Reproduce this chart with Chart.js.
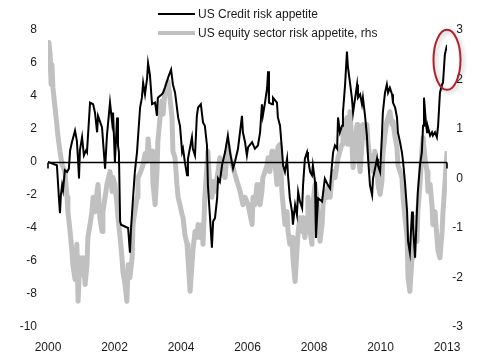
<!DOCTYPE html>
<html>
<head>
<meta charset="utf-8">
<script src="https://cdn.jsdelivr.net/npm/chart.js@4/dist/chart.umd.min.js"></script>
<style>
html,body{margin:0;padding:0;background:#fff;}
#wrap{width:480px;height:364px;position:relative;}
</style>
</head>
<body>
<div id="wrap"><canvas id="c" width="480" height="364"></canvas></div>
<script>
// ---- data ----
const seriesNames = ["US Credit risk appetite", "US equity sector risk appetite, rhs"];
const xTickLabels = ["2000", "2002", "2004", "2006", "2008", "2010", "2013"];
const leftRange = [-10, 8];
const rightRange = [-3, 3];

// [decimal year, value] - left axis
const creditSeries = [
[2000.00,0.0],[2000.29,-0.2],[2000.36,-2.3],[2000.39,-3.1],[2000.42,-2.0],[2000.46,-1.4],[2000.49,-1.7],
[2000.55,-0.5],[2000.62,-0.6],[2000.68,-0.4],[2000.72,0.7],[2000.78,1.2],[2000.88,1.9],[2000.94,1.3],
[2000.98,0.1],[2001.01,-1.0],[2001.04,0.7],[2001.11,1.5],[2001.17,0.4],[2001.24,0.7],[2001.27,0.6],
[2001.37,3.6],[2001.47,3.5],[2001.53,3.0],[2001.60,1.8],[2001.63,2.8],[2001.76,2.1],[2001.86,-0.4],
[2001.92,1.6],[2002.02,3.6],[2002.09,2.4],[2002.12,3.0],[2002.18,0.0],[2002.25,2.7],[2002.28,1.0],
[2002.31,0.6],[2002.35,-3.6],[2002.38,-3.8],[2002.61,-4.0],[2002.67,-5.5],[2002.70,-4.2],[2002.77,-2.2],
[2002.83,-0.6],[2002.90,0.6],[2003.00,3.3],[2003.06,3.9],[2003.10,4.8],[2003.16,4.1],[2003.23,5.1],
[2003.26,6.0],[2003.32,5.3],[2003.39,3.5],[2003.49,3.6],[2003.55,2.8],[2003.58,3.9],[2003.71,4.1],
[2003.75,4.2],[2003.81,4.5],[2003.91,5.1],[2004.01,5.6],[2004.07,4.7],[2004.14,4.2],[2004.24,2.7],
[2004.30,2.2],[2004.37,0.6],[2004.40,0.8],[2004.46,0.0],[2004.53,-0.8],[2004.56,0.2],[2004.69,1.5],
[2004.72,0.8],[2004.79,0.4],[2004.85,2.8],[2004.89,3.3],[2004.98,3.5],[2005.05,2.4],[2005.11,2.2],
[2005.18,1.0],[2005.21,-1.4],[2005.28,-3.4],[2005.34,-5.2],[2005.38,-3.6],[2005.44,-3.4],[2005.51,-2.2],
[2005.54,-1.0],[2005.60,-1.2],[2005.67,-0.2],[2005.77,0.6],[2005.86,1.6],[2005.93,0.6],[2006.03,-0.4],
[2006.09,0.0],[2006.19,0.8],[2006.32,2.8],[2006.35,1.8],[2006.42,1.2],[2006.48,0.4],[2006.52,0.9],
[2006.65,1.2],[2006.74,0.8],[2006.84,1.0],[2006.91,1.8],[2006.97,3.5],[2007.00,2.8],[2007.07,3.6],
[2007.14,4.5],[2007.17,5.5],[2007.20,3.6],[2007.30,3.5],[2007.33,3.9],[2007.46,3.6],[2007.49,2.7],
[2007.56,2.2],[2007.62,0.8],[2007.66,-0.2],[2007.72,-0.6],[2007.79,0.2],[2007.82,-0.8],[2007.88,-2.2],
[2007.95,-3.0],[2007.98,-3.8],[2008.05,-2.6],[2008.11,-3.2],[2008.15,-1.8],[2008.21,-2.4],[2008.28,-2.8],
[2008.31,-1.4],[2008.37,0.2],[2008.44,0.6],[2008.47,0.2],[2008.54,-0.6],[2008.60,-0.8],[2008.63,-0.2],
[2008.70,-1.2],[2008.73,-4.6],[2008.80,-2.2],[2008.93,-2.4],[2009.02,-1.0],[2009.12,-1.4],[2009.19,-1.6],
[2009.25,-0.2],[2009.29,0.6],[2009.35,1.0],[2009.42,0.8],[2009.45,2.7],[2009.51,1.8],[2009.58,2.2],
[2009.61,3.0],[2009.68,4.7],[2009.74,6.7],[2009.77,5.8],[2009.84,4.8],[2009.90,3.9],[2009.94,3.0],
[2010.07,4.7],[2010.10,3.9],[2010.17,4.1],[2010.23,3.5],[2010.26,3.9],[2010.33,2.8],[2010.39,1.6],
[2010.43,0.2],[2010.49,-1.4],[2010.56,-2.0],[2010.59,-1.0],[2010.72,0.2],[2010.75,-0.2],[2010.82,-0.6],
[2010.88,1.6],[2010.91,3.0],[2010.98,4.2],[2011.04,4.7],[2011.08,4.2],[2011.14,4.5],[2011.21,4.1],
[2011.24,3.6],[2011.31,3.3],[2011.37,2.7],[2011.40,1.8],[2011.47,1.2],[2011.53,0.6],[2011.57,0.0],
[2011.63,-1.2],[2011.70,-3.0],[2011.73,-4.8],[2011.79,-5.5],[2011.86,-3.0],[2011.89,-3.8],[2011.96,-5.8],
[2012.02,-3.0],[2012.05,-1.8],[2012.12,-0.2],[2012.18,0.6],[2012.22,2.2],[2012.25,3.9],[2012.32,2.2],
[2012.35,1.8],[2012.38,2.1],[2012.45,1.6],[2012.51,1.8],[2012.54,1.6],[2012.61,1.8],[2012.67,1.5],
[2012.71,2.2],[2012.77,4.2],[2012.84,4.7],[2012.87,4.8],[2012.93,6.5],[2013.00,7.1]
];

// [decimal year, value] - right axis
const equitySeries = [
[2000.00,2.2],[2000.03,2.75],[2000.07,2.5],[2000.10,1.9],[2000.13,2.3],[2000.16,1.84],[2000.23,1.43],
[2000.33,0.83],[2000.39,0.55],[2000.46,0.28],[2000.55,0.14],[2000.62,-0.38],[2000.65,-0.67],[2000.72,-1.07],
[2000.78,-1.47],[2000.81,-1.74],[2000.88,-2.04],[2000.94,-1.33],[2000.98,-2.48],[2001.04,-1.60],[2001.11,-1.94],
[2001.14,-1.60],[2001.21,-2.14],[2001.27,-1.74],[2001.30,-1.19],[2001.37,-0.93],[2001.43,-0.67],[2001.47,-0.38],
[2001.53,-0.67],[2001.60,-0.26],[2001.63,-0.12],[2001.69,-0.79],[2001.76,-1.07],[2001.79,-0.67],[2001.86,-0.38],
[2001.92,-0.12],[2002.02,0.14],[2002.09,-0.26],[2002.12,0.02],[2002.18,-0.12],[2002.25,-0.53],[2002.28,-0.79],
[2002.35,-1.19],[2002.41,-1.60],[2002.44,-1.88],[2002.51,-2.14],[2002.57,-2.48],[2002.61,-1.74],[2002.67,-2.00],
[2002.74,-1.60],[2002.77,-0.93],[2002.83,-0.67],[2002.90,-0.38],[2002.93,0.02],[2003.00,0.10],[2003.10,0.28],
[2003.16,0.50],[2003.23,0.35],[2003.26,0.80],[2003.32,0.40],[2003.39,0.55],[2003.42,-0.10],[2003.49,-0.53],
[2003.55,0.14],[2003.58,0.75],[2003.65,1.23],[2003.71,1.56],[2003.75,1.30],[2003.81,1.76],[2003.88,1.90],
[2003.91,1.96],[2003.97,1.65],[2004.04,1.23],[2004.07,0.55],[2004.14,0.42],[2004.20,-0.12],[2004.24,-0.38],
[2004.30,-0.53],[2004.37,-0.73],[2004.40,-0.79],[2004.46,-1.13],[2004.53,-1.33],[2004.56,-1.60],[2004.63,-2.28],
[2004.69,-1.74],[2004.72,-1.47],[2004.79,-1.07],[2004.85,-1.19],[2004.89,-0.93],[2004.95,-1.19],[2005.02,-0.93],
[2005.05,-1.33],[2005.11,-0.38],[2005.18,0.28],[2005.21,0.55],[2005.28,-0.26],[2005.34,-0.38],[2005.38,-0.06],
[2005.44,-0.26],[2005.54,0.14],[2005.60,0.42],[2005.67,0.14],[2005.77,0.02],[2005.83,0.48],[2005.86,0.69],
[2005.93,0.42],[2006.03,0.22],[2006.16,-0.06],[2006.26,-0.26],[2006.35,-0.53],[2006.42,-0.38],[2006.52,-0.53],
[2006.65,-0.93],[2006.68,-0.38],[2006.74,-0.53],[2006.81,-0.12],[2006.84,-0.38],[2006.91,-0.53],[2006.97,-0.26],
[2007.00,0.02],[2007.07,0.14],[2007.14,0.28],[2007.17,0.42],[2007.23,0.14],[2007.30,0.55],[2007.33,0.28],
[2007.40,0.28],[2007.46,-0.12],[2007.49,0.63],[2007.56,0.69],[2007.62,-0.26],[2007.66,-0.53],[2007.72,-0.93],
[2007.79,-0.67],[2007.82,-1.07],[2007.88,-1.33],[2007.95,-1.19],[2007.98,-1.60],[2008.05,-2.08],[2008.11,-1.47],
[2008.15,-1.07],[2008.21,-0.79],[2008.28,-1.07],[2008.31,-0.79],[2008.37,-1.19],[2008.44,-0.79],[2008.47,-0.38],
[2008.54,-1.07],[2008.60,-1.33],[2008.63,-0.53],[2008.70,-0.12],[2008.76,-0.38],[2008.80,-0.79],[2008.86,-1.27],
[2008.93,-0.93],[2008.96,-0.53],[2009.02,-0.26],[2009.09,-0.38],[2009.12,-0.18],[2009.19,-0.38],[2009.25,0.02],
[2009.29,0.14],[2009.35,0.02],[2009.42,0.28],[2009.45,0.42],[2009.51,0.55],[2009.58,0.69],[2009.61,0.95],
[2009.68,1.09],[2009.74,1.23],[2009.77,0.69],[2009.84,1.35],[2009.90,0.75],[2009.94,0.22],[2010.00,0.69],
[2010.07,1.09],[2010.10,0.55],[2010.17,0.14],[2010.23,0.69],[2010.26,1.09],[2010.33,0.83],[2010.39,1.09],
[2010.43,0.69],[2010.49,0.42],[2010.59,0.14],[2010.65,0.55],[2010.72,0.14],[2010.75,-0.12],[2010.82,-0.32],
[2010.88,-0.06],[2010.91,0.48],[2010.98,0.89],[2011.04,1.15],[2011.08,1.23],[2011.14,1.35],[2011.21,1.09],
[2011.24,1.15],[2011.31,0.83],[2011.37,0.63],[2011.40,0.28],[2011.47,0.14],[2011.53,0.02],[2011.57,-0.38],
[2011.63,-0.79],[2011.70,-1.19],[2011.73,-2.00],[2011.79,-2.28],[2011.86,-1.60],[2011.89,-1.19],[2011.96,-0.79],
[2012.02,-1.27],[2012.05,-0.67],[2012.12,-0.12],[2012.18,0.55],[2012.22,0.83],[2012.28,0.42],[2012.35,0.14],
[2012.38,-0.26],[2012.45,-0.12],[2012.51,-0.53],[2012.54,-0.93],[2012.61,-0.67],[2012.67,-1.19],[2012.71,-1.47],
[2012.77,-1.60],[2012.84,-1.07],[2012.87,-0.67],[2012.93,-0.12],[2013.00,0.55]
];

// ---- styles ----
const FONT = "'Liberation Sans', Arial, sans-serif";
const TEXT = '#1a1a1a';
const BLACK = '#000000';
const GREY = '#c0c0c0';

const toPts = s => s.map(p => ({x: p[0], y: p[1]}));
const xMin = creditSeries[0][0];
const xMax = creditSeries[creditSeries.length - 1][0];

const zeroLinePlugin = {
  id: 'zeroLine',
  afterDatasetDraw(chart, args) {
    if (args.index !== 1) return;
    const ctx = chart.ctx, a = chart.chartArea;
    const y = Math.round(chart.scales.yL.getPixelForValue(0)) + 0.5;
    ctx.save();
    ctx.strokeStyle = BLACK; ctx.lineWidth = 1.6;
    ctx.beginPath();
    ctx.moveTo(a.left, y); ctx.lineTo(a.right, y);
    ctx.moveTo(a.left, y); ctx.lineTo(a.left, y + 6);
    ctx.moveTo(a.right, y); ctx.lineTo(a.right, y + 6);
    ctx.stroke();
    ctx.restore();
  }
};

const legendPlugin = {
  id: 'customLegend',
  afterDraw(chart) {
    const ctx = chart.ctx;
    const rows = [
      {y: 14, color: BLACK, w: 2},
      {y: 33, color: GREY, w: 4}
    ];
    ctx.save();
    ctx.font = '12px ' + FONT;
    ctx.textBaseline = 'middle';
    ctx.textAlign = 'left';
    rows.forEach((r, i) => {
      ctx.strokeStyle = r.color; ctx.lineWidth = r.w;
      ctx.beginPath(); ctx.moveTo(158, r.y); ctx.lineTo(195, r.y); ctx.stroke();
      ctx.fillStyle = TEXT;
      ctx.fillText(chart.data.datasets[i].label, 198, r.y + 0.5);
    });
    ctx.restore();
  }
};

const highlightPlugin = {
  id: 'highlight',
  afterDraw(chart) {
    const ctx = chart.ctx;
    const last = creditSeries[creditSeries.length - 1];
    const cx = chart.scales.x.getPixelForValue(last[0]);
    const cy = chart.scales.yL.getPixelForValue(last[1]) + 15;
    ctx.save();
    ctx.shadowColor = 'rgba(0,0,0,0.25)';
    ctx.shadowBlur = 4; ctx.shadowOffsetX = 2; ctx.shadowOffsetY = 2;
    ctx.strokeStyle = '#b0222a'; ctx.lineWidth = 2;
    ctx.beginPath();
    ctx.ellipse(cx, cy, 13.5, 30, 0, 0, Math.PI * 2);
    ctx.stroke();
    ctx.restore();
  }
};

new Chart(document.getElementById('c'), {
  type: 'line',
  data: {
    datasets: [
      {label: seriesNames[0], data: toPts(creditSeries), yAxisID: 'yL',
       borderColor: BLACK, borderWidth: 2, pointRadius: 0, tension: 0, fill: false},
      {label: seriesNames[1], data: toPts(equitySeries), yAxisID: 'yR',
       borderColor: GREY, borderWidth: 5, pointRadius: 0, tension: 0, fill: false,
       borderJoinStyle: 'round'}
    ]
  },
  options: {
    responsive: false,
    animation: false,
    layout: {padding: {top: 30, right: 17, left: 0, bottom: 0}},
    plugins: {legend: {display: false}, tooltip: {enabled: false}},
    scales: {
      x: {
        type: 'linear', min: xMin, max: xMax,
        afterBuildTicks: s => { s.ticks = xTickLabels.map((t, i) => ({value: xMin + i * (xMax - xMin) / (xTickLabels.length - 1)})); },
        ticks: {
          callback: (v, i) => xTickLabels[i],
          font: {family: FONT, size: 12}, color: TEXT, padding: 13, maxRotation: 0, autoSkip: false
        },
        grid: {display: false, drawTicks: false},
        border: {display: false},
        afterFit: s => { s.height = 37; }
      },
      yL: {
        position: 'left', min: leftRange[0], max: leftRange[1],
        ticks: {stepSize: 2, font: {family: FONT, size: 12}, color: TEXT, padding: 11},
        grid: {display: false, drawTicks: false},
        border: {display: false},
        afterFit: s => { s.width = 48; }
      },
      yR: {
        position: 'right', min: rightRange[0], max: rightRange[1],
        ticks: {stepSize: 1, font: {family: FONT, size: 12}, color: TEXT, crossAlign: 'far', padding: 0},
        grid: {display: false, drawTicks: false},
        border: {display: false},
        afterFit: s => { s.width = 16; }
      }
    }
  },
  plugins: [zeroLinePlugin, legendPlugin, highlightPlugin]
});
</script>
</body>
</html>
